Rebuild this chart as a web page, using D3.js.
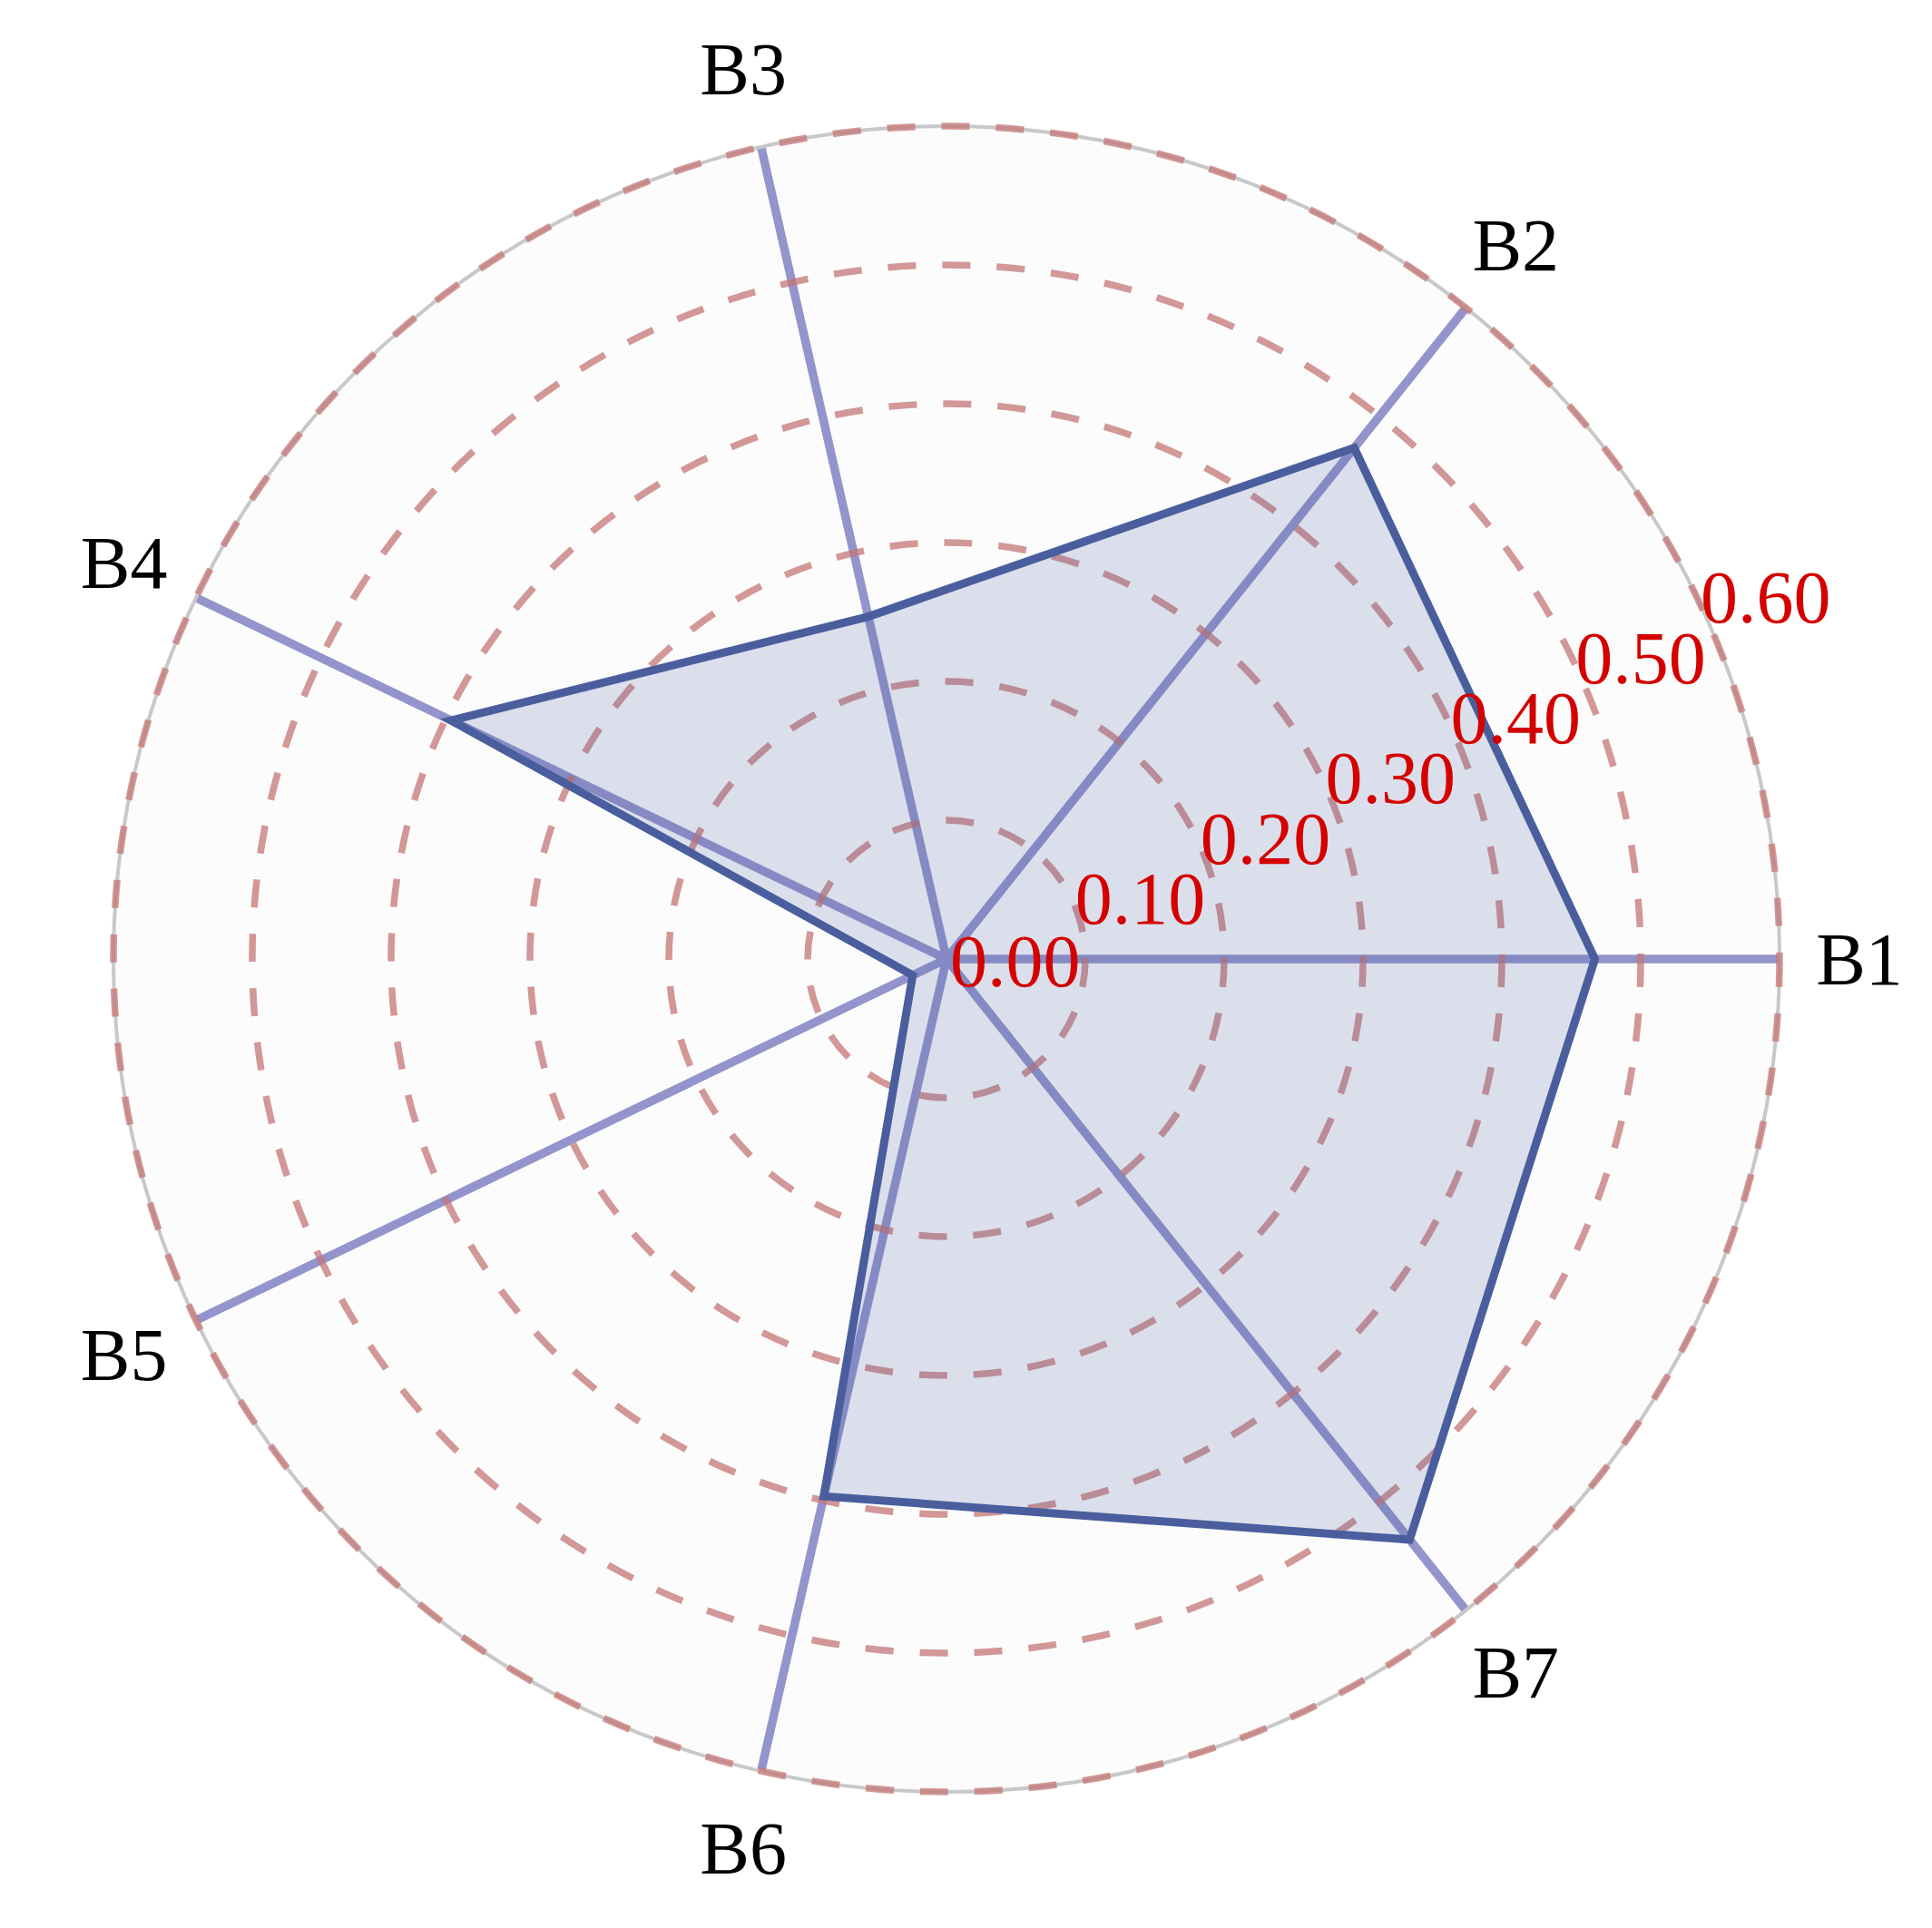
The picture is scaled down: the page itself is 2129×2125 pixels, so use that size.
<!DOCTYPE html>
<html>
<head>
<meta charset="utf-8">
<script src="https://cdn.jsdelivr.net/npm/d3@7"></script>
<style>
  body { margin: 0; background: #ffffff; }
  svg text { font-family: "Liberation Serif", "Times New Roman", serif; }
</style>
</head>
<body>
<svg id="radar" width="2129" height="2125"></svg>
<script>
// axes and values
var categories = ["B1", "B2", "B3", "B4", "B5", "B6", "B7"];
var values = [0.467, 0.471, 0.253, 0.396, 0.027, 0.397, 0.535];
var ticks = [0.0, 0.1, 0.2, 0.3, 0.4, 0.5, 0.6];
var tickLabels = ["0.00", "0.10", "0.20", "0.30", "0.40", "0.50", "0.60"];

var cx = 1043, cy = 1057, radius = 918;
var svg = d3.select("#radar");
var g = svg.append("g").attr("transform", "translate(" + cx + "," + cy + ")");

var r = d3.scaleLinear().domain([0, 0.6]).range([0, radius]);
var step = 2 * Math.PI / categories.length;

// counter-clockwise from 3 o'clock, converted to d3's clockwise-from-12 angle
var angle = function(i) {
  return Math.PI / 2 - i * step;
};
var px = function(i, rr) { return rr * Math.sin(angle(i)); };
var py = function(i, rr) { return -rr * Math.cos(angle(i)); };

// background disc
g.append("circle")
  .attr("r", radius)
  .attr("fill", "#fcfcfc");

// spokes
g.selectAll("line.spoke")
  .data(categories)
  .enter()
  .append("line")
  .classed("spoke", true)
  .attr("x1", 0)
  .attr("y1", 0)
  .attr("x2", function(d, i) { return px(i, radius); })
  .attr("y2", function(d, i) { return py(i, radius); })
  .attr("stroke", "#9494cc")
  .attr("stroke-width", 9.5);

// outer solid grey ring
g.append("circle")
  .attr("r", radius)
  .attr("fill", "none")
  .attr("stroke", "#c8c8c8")
  .attr("stroke-width", 4);

// dashed rings
g.selectAll("circle.ring")
  .data(ticks.slice(1))
  .enter()
  .append("circle")
  .classed("ring", true)
  .attr("r", function(t) { return r(t); })
  .attr("fill", "none")
  .attr("stroke", "#c47676")
  .attr("stroke-opacity", 0.75)
  .attr("stroke-width", 7.5)
  .attr("stroke-dasharray", "31,29");

// data polygon
var line = d3.lineRadial()
  .angle(function(d, i) { return angle(i); })
  .radius(function(d) { return r(d); })
  .curve(d3.curveLinearClosed);

g.append("path")
  .datum(values)
  .attr("d", line)
  .attr("fill", "#4a60a0")
  .attr("fill-opacity", 0.18)
  .attr("stroke", "#4a5e9e")
  .attr("stroke-width", 9)
  .attr("stroke-linejoin", "miter");

// tick labels along the bisector between B1 and B2
var tickAngle = step / 2;
g.selectAll("text.tick")
  .data(ticks)
  .enter()
  .append("text")
  .classed("tick", true)
  .text(function(t, i) { return tickLabels[i]; })
  .attr("x", function(t) { return r(t) * Math.cos(tickAngle) + 4; })
  .attr("y", function(t) { return -r(t) * Math.sin(tickAngle) - (t === 0 ? -2 : 0); })
  .attr("dominant-baseline", "central")
  .attr("text-anchor", "start")
  .attr("font-family", "Liberation Serif, serif")
  .attr("font-size", 82)
  .attr("fill", "#d40000");

// axis labels
var labelR = radius + 88;
g.selectAll("text.axis")
  .data(categories)
  .enter()
  .append("text")
  .classed("axis", true)
  .text(function(d) { return d; })
  .attr("x", function(d, i) { return px(i, labelR); })
  .attr("y", function(d, i) { return py(i, labelR); })
  .attr("dominant-baseline", "central")
  .attr("text-anchor", "middle")
  .attr("font-family", "Liberation Serif, serif")
  .attr("font-size", 82)
  .attr("fill", "#000000");
</script>
</body>
</html>
